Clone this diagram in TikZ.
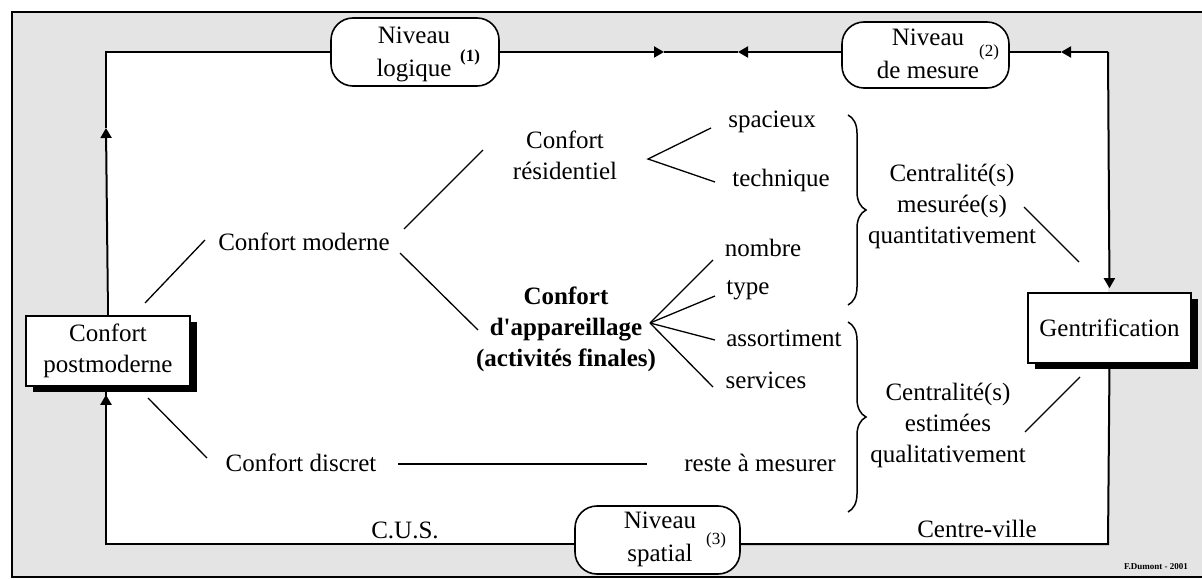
\documentclass[tikz,border=0pt]{standalone}
\usepackage{fontspec}
\setmainfont{Liberation Serif}
\usetikzlibrary{shadows,decorations.pathreplacing,arrows.meta}
\definecolor{bggray}{RGB}{228,228,228}
\begin{document}
\begin{tikzpicture}[x=1pt,y=-1pt,
  font=\fontsize{25}{31}\selectfont,
  txt/.style={align=center, inner sep=0pt},
  btxt/.style={align=center, inner sep=0pt, font=\fontsize{25}{31}\selectfont\bfseries},
  conn/.style={line width=1.3pt},
  frameline/.style={line width=2pt},
  tipped/.style={-{Triangle[length=10pt,width=11pt]}},
  boxnode/.style={draw, line width=1.6pt, fill=white, minimum width=164pt, minimum height=70pt,
    inner sep=0pt, align=center,
    drop shadow={shadow xshift=7pt, shadow yshift=-6pt, fill=black, opacity=1}},
  levelbox/.style={draw, line width=1.6pt, fill=white, rounded corners=22pt,
    minimum width=167pt, minimum height=68pt, inner sep=0pt},
  leveltxt/.style={align=center, inner sep=0pt, font=\fontsize{25}{33}\selectfont},
  supnum/.style={inner sep=0pt, font=\fontsize{17}{20}\selectfont}
]
\useasboundingbox (0,0) rectangle (1202,580);
% background
\fill[bggray] (12,12) rectangle (1215,577);
\draw[line width=1.6pt] (1215,12) -- (12,12) -- (12,577) -- (1215,577);
\fill[white] (106,52) rectangle (1108,544);

% frame coordinates
\coordinate (tl) at (106,52);
\coordinate (tr) at (1108,52);
\coordinate (bl) at (106,544);
\coordinate (br) at (1108,544);
\coordinate (up1) at (106,128);
\coordinate (rt1) at (664,52);
\coordinate (lt1) at (738,52);
\coordinate (lt2) at (1061,52);

% boxes
\node[boxnode] (post) at (108,351) {Confort\\postmoderne};
\node[boxnode, minimum width=163pt] (gent) at (1109.5,328) {Gentrification};

% level boxes
\node[levelbox, minimum width=168pt] (niv1) at (415,52) {};
\node[leveltxt] (niv1t) at (414,54) {Niveau\\logique};
\node[supnum] (niv1s) at (470,57) {\bfseries(1)};
\node[levelbox, minimum width=167pt, minimum height=66pt] (niv2) at (925.5,55) {};
\node[leveltxt] (niv2t) at (928,54) {Niveau\\de mesure};
\node[supnum] (niv2s) at (989,52) {(2)};
\node[levelbox, minimum width=165pt] (niv3) at (657.5,540) {};
\node[leveltxt] (niv3t) at (660,539) {Niveau\\spatial};
\node[supnum] (niv3s) at (716,540) {(3)};

% frame lines
\draw[frameline, tipped] (post.north) -- (up1);
\draw[frameline] (up1) -- (tl) -- (niv1.west);
\draw[frameline, tipped] (niv1.east) -- (rt1);
\draw[frameline] (rt1) -- (lt1);
\draw[frameline, tipped] (niv2.west |- tl) -- (lt1);
\draw[frameline, tipped] (tr) -- (lt2);
\draw[frameline] (lt2) -- (niv2.east |- tr);
\draw[frameline, tipped, shorten >=4pt] (tr) -- (gent.north);
\draw[frameline] (gent.south) -- (br) -- (niv3.east |- br);
\draw[frameline] (niv3.west |- bl) -- (bl) -- (post.south -| bl);
\draw[frameline, tipped, shorten >=8pt] (bl) -- (post.south -| bl);

% text nodes
\node[txt] (mod) at (304,242) {Confort moderne};
\node[txt] (res) at (565,155) {Confort\\résidentiel};
\node[btxt] (app) at (566,329) {Confort\\d\textquotesingle appareillage\\(activités finales)};
\node[txt] (disc) at (301,463) {Confort discret};
\node[txt] (spa) at (772,122) {spacieux};
\node[txt] (tec) at (781,180) {technique};
\node[txt] (nom) at (763,248) {nombre};
\node[txt] (typ) at (748,290) {type};
\node[txt] (ass) at (784,338) {assortiment};
\node[txt] (ser) at (766,380) {services};
\node[txt] (rest) at (760,463) {reste à mesurer};
\node[txt] (cen1) at (952,206) {Centralité(s)\\mesurée(s)\\quantitativement};
\node[txt] (cen2) at (948,425) {Centralité(s)\\estimées\\qualitativement};
\node[txt] (cus) at (405,530) {C.U.S.};
\node[txt] (cv) at (977,529) {Centre-ville};
\node[inner sep=0pt, font=\fontsize{9}{10}\selectfont\bfseries] (sig) at (1156,567) {F.Dumont - 2001};

% connector coordinates
\coordinate (c1) at (205,240);
\coordinate (c2) at (145,303);
\coordinate (c3) at (404,229);
\coordinate (c4) at (483,150);
\coordinate (c5) at (400,253);
\coordinate (c6) at (478,330);
\coordinate (r0) at (648,159);
\coordinate (r1) at (711,128);
\coordinate (r2) at (715,182);
\coordinate (a0) at (650,323);
\coordinate (a1) at (713,260);
\coordinate (a2) at (715,296);
\coordinate (a3) at (715,340);
\coordinate (a4) at (713,387);
\coordinate (m1) at (1024,207);
\coordinate (m2) at (1079,262);
\coordinate (e1) at (1025,432);
\coordinate (e2) at (1080,377);
\coordinate (d1) at (207,458);
\coordinate (d2) at (148,398);
\coordinate (h1) at (398,464);
\coordinate (h2) at (647,464);

\draw[conn] (c1) -- (c2);
\draw[conn] (c3) -- (c4);
\draw[conn] (c5) -- (c6);
\draw[conn] (r1) -- (r0) -- (r2);
\draw[conn] (a0) -- (a1);
\draw[conn] (a0) -- (a2);
\draw[conn] (a0) -- (a3);
\draw[conn] (a0) -- (a4);
\draw[conn] (m1) -- (m2);
\draw[conn] (e1) -- (e2);
\draw[conn] (d1) -- (d2);
\draw[line width=1.6pt] (h1) -- (h2);

% braces
\coordinate (b1t) at (848,115);
\coordinate (b1b) at (848,305);
\coordinate (b2t) at (848,322);
\coordinate (b2b) at (848,512);
\draw[line width=1.5pt, decorate, decoration={brace, amplitude=18pt}] (b1t) -- (b1b);
\draw[line width=1.5pt, decorate, decoration={brace, amplitude=18pt}] (b2t) -- (b2b);
\end{tikzpicture}
\end{document}
